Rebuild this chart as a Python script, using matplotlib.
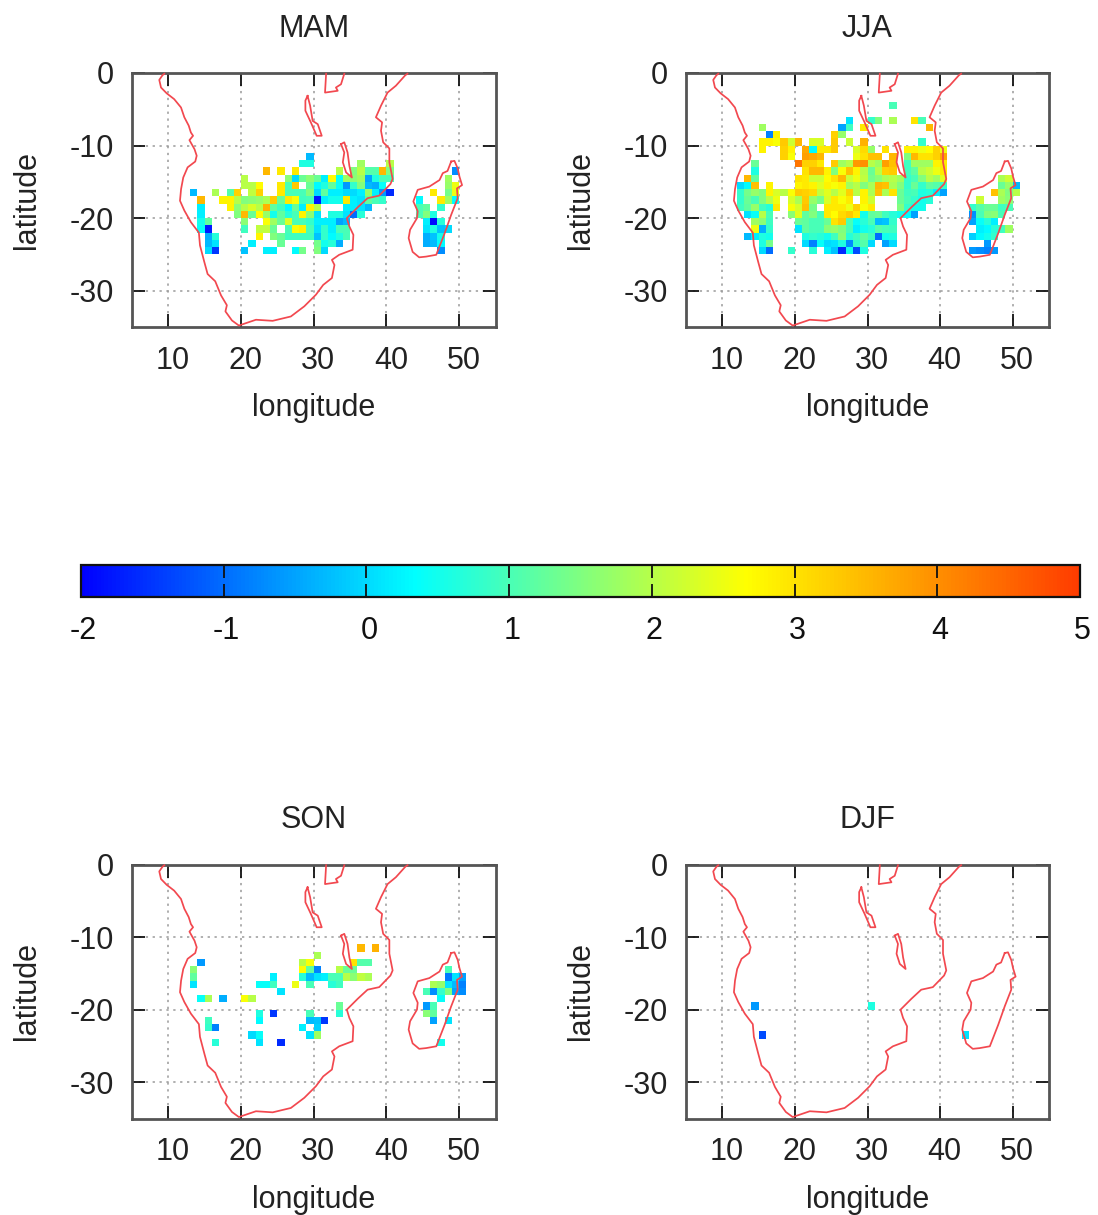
import numpy as np
import matplotlib
matplotlib.use('Agg')
import matplotlib.pyplot as plt
from matplotlib.colors import LinearSegmentedColormap, Normalize
from matplotlib.cm import ScalarMappable
from matplotlib.transforms import ScaledTranslation

plt.rcParams['font.family'] = ['Liberation Sans', 'DejaVu Sans']
plt.rcParams['axes.unicode_minus'] = False

# cells per season: {top latitude of row: [(west longitude, value), ...]}
mam_cells = {
    -11: [(29, -0.3)],
    -12: [(28, 0.6), (29, 0.6), (36, 1.8), (40, 2.0)],
    -13: [(23, 3.5), (25, 2.9), (27, 2.9), (33, 2.0), (35, 1.5), (36, 2.0), (37, 1.1), (38, 1.1), (39, 3.5), (40, 1.5),
          (49, -0.7)],
    -14: [(20, 2.0), (26, 1.6), (27, 0.0), (28, 1.3), (29, 1.6), (30, 1.3), (31, 0.2), (32, 2.7), (33, 0.4), (34, 1.8),
          (35, 1.6), (36, 1.8), (37, -0.5), (38, 0.6), (39, 1.0), (40, 1.0), (48, 1.8)],
    -15: [(20, 2.0), (21, 2.0), (22, 2.7), (25, 2.9), (26, 1.0), (27, 3.3), (29, 1.3), (30, 0.3), (31, 0.6), (32, 1.2),
          (33, 0.4), (34, -0.6), (35, 0.8), (36, 1.5), (37, -0.3), (38, -0.4), (39, 0.4), (48, 1.7), (49, 2.5)],
    -16: [(13, -0.3), (16, 1.9), (18, 1.1), (19, 3.2), (21, 2.1), (22, 3.2), (25, 2.9), (26, 1.0), (27, 1.0), (28, 1.0),
          (29, 1.5), (30, 0.0), (31, 1.2), (32, 0.2), (33, 0.2), (34, 0.0), (35, 0.0), (36, 0.2), (37, 1.7), (38, 0.2),
          (39, -0.6), (40, -1.6), (46, 2.9), (48, 1.4), (49, 2.5)],
    -17: [(14, 3.5), (17, 2.8), (18, 2.8), (19, 2.0), (20, 1.5), (21, 1.6), (22, 1.7), (23, 1.9), (24, 3.3), (25, 1.3),
          (26, 2.9), (27, 2.6), (28, 0.9), (29, 1.0), (30, -1.8), (31, 0.2), (32, 0.5), (33, 0.5), (34, 2.9), (35, 0.2),
          (36, 0.1), (37, 1.2), (38, 1.0), (39, 0.8), (44, 0.3), (47, 2.9), (48, 1.8), (49, 0.3)],
    -18: [(14, 0.2), (18, 2.8), (19, 1.6), (20, 2.0), (21, 2.3), (22, 2.0), (23, 3.6), (24, 1.2), (25, 0.9), (26, 0.3),
          (27, 1.3), (28, 0.2), (29, 2.8), (30, 2.0), (34, 0.2), (35, 0.2), (36, 0.1), (37, -0.3), (44, 1.0), (45, 1.2),
          (47, 0.8)],
    -19: [(14, 0.2), (19, 1.5), (20, 3.5), (21, 1.3), (22, 2.7), (23, 1.7), (24, 0.5), (25, 1.2), (26, 0.7), (27, 1.0),
          (28, 2.8), (29, 1.6), (30, 0.1), (32, 0.6), (33, 0.6), (34, 0.1), (35, -1.0), (36, 0.7), (44, 1.0), (45, 1.5),
          (46, 0.6)],
    -20: [(14, 0.5), (15, 1.2), (20, 1.6), (23, 2.6), (24, 1.8), (25, 1.3), (26, 2.3), (27, 1.0), (28, 1.0), (29, 0.8),
          (30, 0.2), (31, 0.2), (32, 0.2), (33, -0.5), (34, -0.3), (45, 0.2), (46, -1.9), (47, 0.7)],
    -21: [(14, 0.4), (15, -1.8), (20, 0.9), (22, 2.1), (23, 2.1), (24, 1.3), (26, 1.0), (27, 2.6), (28, 2.8), (29, 1.0),
          (30, 0.1), (31, 0.8), (32, 0.2), (33, 1.0), (34, 1.0), (45, 0.1), (46, 0.6), (47, -0.2), (48, 0.0)],
    -22: [(15, -0.4), (16, 0.7), (22, 2.8), (24, 1.5), (25, 1.3), (26, 0.9), (27, 0.9), (28, 0.9), (29, 0.9), (30, -0.2),
          (31, 0.8), (32, 0.3), (33, 0.6), (34, 1.0), (45, -0.4), (46, -0.2), (47, 0.5)],
    -23: [(15, -0.3), (16, 0.1), (21, 0.2), (25, 1.3), (30, 1.4), (31, 0.5), (32, 0.7), (33, -0.4), (45, -0.4), (46, -0.3),
          (47, 0.3)],
    -24: [(15, 0.0), (16, -1.5), (20, -0.2), (23, 0.2), (24, 0.2), (27, 0.3), (28, 1.4), (30, 1.5), (31, 0.0), (47, -0.7)],
}

jja_cells = {
    -4: [(33, 1.0)],
    -6: [(27, 0.1), (30, 0.8), (31, 1.5), (33, 1.9), (36, 3.0), (37, 1.0)],
    -7: [(15, 1.8), (26, -0.5), (27, 0.9), (29, 2.9), (38, 3.5)],
    -8: [(16, -0.8), (17, 2.8), (25, 3.2), (26, 1.7)],
    -9: [(15, 2.8), (16, 2.8), (17, 2.6), (18, 3.3), (19, 2.2), (20, 3.5), (22, 2.3), (23, 2.3), (25, 3.3), (27, 2.2),
         (29, 3.6), (37, 0.8)],
    -10: [(15, 2.8), (18, 3.2), (19, 2.8), (21, 3.7), (22, 0.3), (23, 2.9), (24, 2.9), (25, 3.3), (28, 2.3), (29, 3.1),
          (30, 1.7), (32, 3.0), (35, 2.8), (36, 2.8), (37, 2.5), (38, 2.7), (39, 3.2), (40, 2.5)],
    -11: [(18, 3.2), (19, 2.6), (21, 3.8), (22, 3.7), (23, 3.5), (28, 2.5), (29, 3.0), (30, 3.4), (31, 3.4), (33, 3.5),
          (35, 1.5), (36, 3.5), (37, 3.0), (38, 3.0), (39, 3.2), (40, 3.7)],
    -12: [(14, 1.3), (20, 4.3), (21, 3.2), (22, 3.2), (23, 2.9), (25, 3.3), (26, 1.8), (27, 2.0), (28, 3.9), (29, 4.0),
          (30, 2.0), (31, 1.8), (32, 3.8), (33, 3.4), (35, 0.9), (36, 1.8), (37, 1.8), (38, 1.8), (39, 2.8), (40, 2.9)],
    -13: [(14, 0.6), (21, 3.0), (22, 3.5), (23, 3.5), (24, 2.8), (25, 1.5), (26, 2.6), (27, 3.4), (28, 2.8), (29, 2.0),
          (30, 1.3), (31, 2.0), (32, 3.2), (33, 3.3), (35, 0.9), (36, 1.2), (37, 2.0), (38, 2.2), (39, 2.5), (40, 2.9)],
    -14: [(13, 3.5), (14, 1.2), (20, 3.0), (21, 2.9), (22, 2.2), (23, 2.2), (24, 2.7), (25, 3.0), (26, 3.5), (27, 2.2),
          (28, 2.5), (29, 2.1), (30, 1.4), (31, 1.6), (32, 1.9), (33, 2.0), (34, 1.8), (35, 0.8), (36, 1.0), (37, 1.5),
          (38, 2.0), (39, 1.8), (40, 2.4), (48, 1.9), (49, 2.2)],
    -15: [(12, 0.0), (13, 0.3), (14, 3.4), (16, 2.8), (20, 2.8), (21, 2.9), (22, 2.8), (23, 2.4), (24, 2.8), (25, 2.6),
          (26, 2.8), (27, 1.8), (28, 2.0), (29, 1.5), (30, 1.9), (31, 3.5), (32, 3.4), (33, 1.9), (34, 1.5), (35, 0.8),
          (36, 1.3), (37, 0.8), (38, 1.2), (39, 1.1), (40, 0.8), (48, 1.3), (49, 1.7), (50, -0.3)],
    -16: [(12, 0.8), (13, 1.4), (14, 1.7), (15, 1.5), (16, 2.8), (17, 2.3), (18, 2.0), (19, 2.6), (20, 3.3), (21, 3.2),
          (22, 3.1), (23, 2.1), (24, 2.4), (25, 2.0), (26, 2.4), (27, 3.2), (28, 2.0), (29, 2.8), (30, 1.9), (31, 3.4),
          (32, 1.9), (33, 3.0), (34, 1.3), (35, 0.9), (36, 1.0), (37, 0.6), (38, 0.7), (39, 0.2), (40, -0.5), (47, 3.4),
          (48, 1.9), (49, 1.5), (50, 2.0)],
    -17: [(12, 0.8), (13, 1.3), (14, 1.0), (15, 1.5), (16, 2.0), (17, 2.5), (19, 2.3), (20, 1.9), (21, 3.3), (22, 1.7),
          (23, 1.4), (24, 2.3), (25, 2.9), (26, 2.6), (27, 2.9), (29, 2.8), (30, 2.2), (34, 1.3), (35, 1.0), (36, 0.8),
          (37, 0.5), (38, 0.7), (45, 2.2), (48, 1.8), (49, 1.6)],
    -18: [(12, 0.9), (13, 1.2), (14, 1.7), (15, 0.9), (16, 0.7), (17, 2.9), (19, 2.6), (20, 2.3), (21, 3.4), (22, 1.4),
          (24, 2.9), (25, 2.9), (26, 2.9), (27, 2.5), (28, 3.2), (29, 2.6), (30, 2.9), (34, 1.5), (35, 0.8), (36, 0.5),
          (37, 0.5), (44, 0.8), (45, 1.1), (46, 1.3), (47, 1.3), (48, 0.9), (49, 1.0)],
    -19: [(13, 0.1), (14, 0.4), (15, 2.0), (16, 1.0), (19, 1.6), (20, 2.4), (21, 1.2), (22, 1.5), (23, 1.0), (24, 2.9),
          (25, 2.7), (26, 3.1), (27, 3.3), (28, 2.9), (29, 0.5), (30, 1.2), (31, 1.3), (32, 0.9), (33, 0.7), (34, 0.5),
          (35, 0.3), (36, -0.5), (44, -0.7), (45, 1.0), (46, 1.5), (47, 1.6), (48, 1.0)],
    -20: [(14, 1.8), (15, 1.6), (16, 0.9), (20, 1.3), (21, 1.2), (22, 1.0), (23, 1.0), (24, 1.3), (25, 3.0), (26, 3.3),
          (27, 1.0), (28, 0.4), (29, 0.7), (30, 1.0), (31, -0.3), (32, -0.2), (33, 0.8), (44, -0.5), (45, 0.4), (46, 0.7),
          (47, 0.2)],
    -21: [(14, 2.5), (15, -0.4), (16, 0.8), (20, 0.1), (21, 1.2), (22, 1.0), (23, 1.0), (24, 1.6), (25, 1.7), (26, 1.5),
          (27, 1.0), (28, 0.2), (29, 0.5), (30, 0.7), (31, 1.1), (32, 1.0), (33, 0.9), (45, 0.2), (46, 0.3), (47, 0.7),
          (48, 0.9), (49, 1.8)],
    -22: [(13, -0.3), (14, 0.2), (15, 0.6), (16, 0.5), (21, 0.6), (22, 0.8), (23, 0.7), (24, 0.5), (25, 0.9), (26, 1.6),
          (27, 0.7), (28, 0.9), (29, 1.2), (30, 0.9), (31, -1.0), (32, 0.5), (33, 0.6), (44, -0.1), (45, 0.3), (46, 0.5),
          (47, 0.8)],
    -23: [(15, 0.6), (16, 1.4), (21, 0.0), (22, -0.8), (23, 0.4), (24, 0.0), (25, 0.1), (26, 0.6), (27, -0.7), (28, 0.8),
          (29, 1.1), (30, 0.0), (32, -0.5), (33, 0.0), (46, -0.6)],
    -24: [(15, 0.0), (16, -1.0), (19, 0.8), (22, 0.7), (24, 0.2), (25, -0.2), (26, -1.6), (27, 0.5), (28, -1.3), (29, 0.6),
          (44, -0.6), (45, -0.7), (46, -0.8), (47, -0.6)],
}

son_cells = {
    -11: [(36, 3.5), (38, 3.6)],
    -12: [(30, 1.9)],
    -13: [(14, -0.6), (28, 2.0), (29, 2.6), (35, 3.0), (36, 1.1), (37, 1.1)],
    -14: [(13, 1.6), (28, 2.7), (29, 1.2), (30, -0.8), (33, 2.0), (34, 1.3), (35, 1.3), (48, 1.0)],
    -15: [(13, 1.2), (24, 0.2), (28, 0.7), (29, -0.3), (30, 0.1), (31, 0.2), (32, 1.0), (33, 1.0), (34, 2.0), (35, 1.6),
          (36, 2.1), (37, 1.9), (48, -0.9), (49, 0.1), (50, -0.5)],
    -16: [(13, 0.1), (22, 0.4), (23, 0.4), (24, 0.9), (27, 2.5), (29, 1.0), (32, 0.7), (33, 0.9), (46, 1.9), (47, 1.7),
          (48, 0.1), (49, -0.3), (50, -0.8)],
    -17: [(25, 0.1), (45, 1.0), (46, -0.7), (47, 0.8), (48, 1.5), (49, -0.5), (50, -0.7)],
    -18: [(14, 0.4), (15, 1.9), (17, -0.4), (20, 2.6), (21, 2.0), (47, 0.4)],
    -19: [(33, 1.3), (45, -0.6), (46, 1.0)],
    -20: [(22, 0.6), (24, -1.5), (29, 1.0), (33, 0.7), (45, 1.6), (46, 1.2)],
    -21: [(15, 0.9), (22, 0.3), (29, -0.3), (30, -0.2), (31, -1.5), (46, -0.5), (48, 0.1)],
    -22: [(15, 0.8), (16, -0.8), (28, 0.2), (30, -0.1)],
    -23: [(21, 0.0), (22, 0.4), (29, 0.1), (30, 1.8)],
    -24: [(16, 0.7), (22, 0.1), (25, -1.6), (47, 0.5)],
}

djf_cells = {
    -19: [(14, -0.6), (30, 0.6)],
    -23: [(15, -1.3), (43, 0.1)],
}

# coastlines, lon/lat
africa_lon = [9.45, 9.2, 8.75, 8.99, 9.77, 10.8, 11.74, 12.2, 12.8, 13.1, 13.4, 12.9, 13.6, 13.9, 13.7, 12.65, 12.05,
              11.75, 11.6, 12.2, 13.1, 14.2, 14.35, 14.95, 15.4, 16.45, 17.25, 18.05, 17.85, 18.75, 19.7, 22.05, 24.35,
              26.85, 28.7, 30.3, 31.3, 32.5, 32.85, 32.5, 33.5, 35.35, 35.45, 34.9, 34.55, 36.05, 37.4, 39.0, 40.55,
              40.85, 40.4, 40.4, 39.55, 39.25, 39.4, 38.55, 39.25, 40.15, 41.3, 42.6, 42.9]
africa_lat = [-0.1, -0.3, -0.95, -2.0, -2.8, -3.6, -4.75, -6.1, -7.25, -8.2, -8.65, -9.25, -10.5, -11.4, -12.2, -13.0,
              -14.4, -16.0, -17.6, -18.95, -20.55, -22.0, -23.75, -26.05, -27.7, -28.7, -30.65, -32.0, -32.85, -34.1,
              -34.8, -34.0, -34.15, -33.55, -32.15, -30.55, -29.2, -28.25, -26.45, -25.75, -25.05, -24.35, -22.3,
              -21.15, -20.0, -18.5, -17.25, -16.9, -15.3, -14.6, -12.3, -10.4, -9.55, -7.95, -6.8, -6.1, -4.5, -2.7,
              -1.75, -0.3, -0.1]
victoria_lon = [31.7, 31.55, 33.3, 33.05, 33.75, 34.2]
victoria_lat = [-0.1, -2.7, -2.45, -2.0, -1.55, -0.1]
tanganyika_lon = [29.15, 28.85, 28.85, 29.6, 30.1, 30.4, 31.1, 30.55, 29.85, 29.5, 29.15]
tanganyika_lat = [-3.15, -3.8, -5.2, -6.8, -7.95, -8.65, -8.65, -7.05, -6.6, -4.5, -3.15]
malawi_lon = [33.75, 34.2, 34.65, 34.9, 35.25, 34.45, 34.0, 34.2, 33.75]
malawi_lat = [-9.8, -9.55, -10.95, -12.8, -14.4, -13.7, -12.3, -10.95, -9.8]
madagascar_lon = [48.9, 49.35, 49.8, 50.05, 50.4, 49.7, 49.8, 48.9, 48.0, 47.3, 46.85, 45.45, 44.5, 43.6, 43.05, 43.25,
                  44.2, 44.3, 43.7, 44.3, 45.9, 47.3, 47.75, 48.4, 48.9]
madagascar_lat = [-12.2, -12.1, -13.15, -14.3, -15.45, -15.9, -17.25, -19.55, -22.1, -23.9, -25.05, -25.3, -25.4,
                  -24.65, -22.75, -21.6, -20.0, -19.05, -17.7, -16.1, -15.65, -14.75, -13.8, -13.5, -12.2]
coasts = [(africa_lon, africa_lat), (victoria_lon, victoria_lat), (tanganyika_lon, tanganyika_lat),
          (malawi_lon, malawi_lat), (madagascar_lon, madagascar_lat)]

season_names = ['MAM', 'JJA', 'SON', 'DJF']
season_cells = [mam_cells, jja_cells, son_cells, djf_cells]
cbar_ticks = [-2, -1, 0, 1, 2, 3, 4, 5]

W, H = 1098, 1215
TXT = '#222222'
FS = 22

cmap = LinearSegmentedColormap.from_list('pal', ['#0000ff', '#00ffff', '#ffff00', '#ff3c00'], N=256)
norm = Normalize(-2, 5)


def px_axes(fig, left, top, right, bottom):
    return fig.add_axes([left / W, 1 - bottom / H, (right - left) / W, (bottom - top) / H])


def cells_to_grid(cells):
    lon_edges = np.arange(5, 56)
    lat_edges = np.arange(-35, 1)
    grid = np.full((35, 50), np.nan)
    for lat, row in cells.items():
        for lon, val in row:
            grid[lat - 1 + 35, lon - 5] = val
    return lon_edges, lat_edges, np.ma.masked_invalid(grid)


def shift_labels(fig, labels, dx_px):
    # gnuplot put the numbers a few pixels right of their ticks
    offset = ScaledTranslation(dx_px / 100, 0, fig.dpi_scale_trans)
    for label in labels:
        label.set_transform(label.get_transform() + offset)


def draw_panel(fig, ax, name, cells):
    x, y, z = cells_to_grid(cells)
    ax.pcolormesh(x, y, z, cmap=cmap, norm=norm, zorder=2, antialiased=False, linewidth=0)
    for lon, lat in coasts:
        ax.plot(lon, lat, color='#f2484f', lw=1.25, zorder=3, clip_on=False)
    ax.set_xlim(5, 55)
    ax.set_ylim(-35, 0)
    ax.set_xticks([10, 20, 30, 40, 50])
    ax.set_yticks([0, -10, -20, -30])
    ax.grid(True, color='#9a9a9a', lw=1.1, ls=(0, (1.5, 3)), zorder=1)
    ax.set_axisbelow(True)
    ax.tick_params(direction='in', length=9.5, width=1.3, color='#111111', top=True, right=True,
                   labelsize=FS, labelcolor=TXT, pad=13)
    ax.tick_params(axis='x', pad=13.5)
    shift_labels(fig, ax.get_xticklabels(), 4.5)
    for s in ax.spines.values():
        s.set_linewidth(2.0)
        s.set_color('#555555')
    ax.set_title(name, fontsize=FS, color=TXT, pad=26)
    ax.set_xlabel('longitude', fontsize=FS, color=TXT, labelpad=12.5)
    ax.set_ylabel('latitude', fontsize=FS, color=TXT, labelpad=20)


fig = plt.figure(figsize=(W / 100, H / 100), dpi=100)

panel_boxes = [(132, 73, 495.5, 327), (686, 73, 1049, 327), (132, 864.5, 495.5, 1118.5), (686, 864.5, 1049, 1118.5)]
for box, name, cells in zip(panel_boxes, season_names, season_cells):
    draw_panel(fig, px_axes(fig, *box), name, cells)

cax = px_axes(fig, 81, 565, 1080, 596.5)
cb = fig.colorbar(ScalarMappable(norm=norm, cmap=cmap), cax=cax, orientation='horizontal')
cb.set_ticks(cbar_ticks)
cax.tick_params(direction='in', length=9.5, width=1.3, color='#111111', top=True, bottom=True,
                labelsize=FS, labelcolor='#111111', pad=14)
shift_labels(fig, cax.get_xticklabels(), 2.5)
cb.outline.set_linewidth(1.6)
cb.outline.set_edgecolor('#111111')

fig.savefig('out.png', dpi=100)
